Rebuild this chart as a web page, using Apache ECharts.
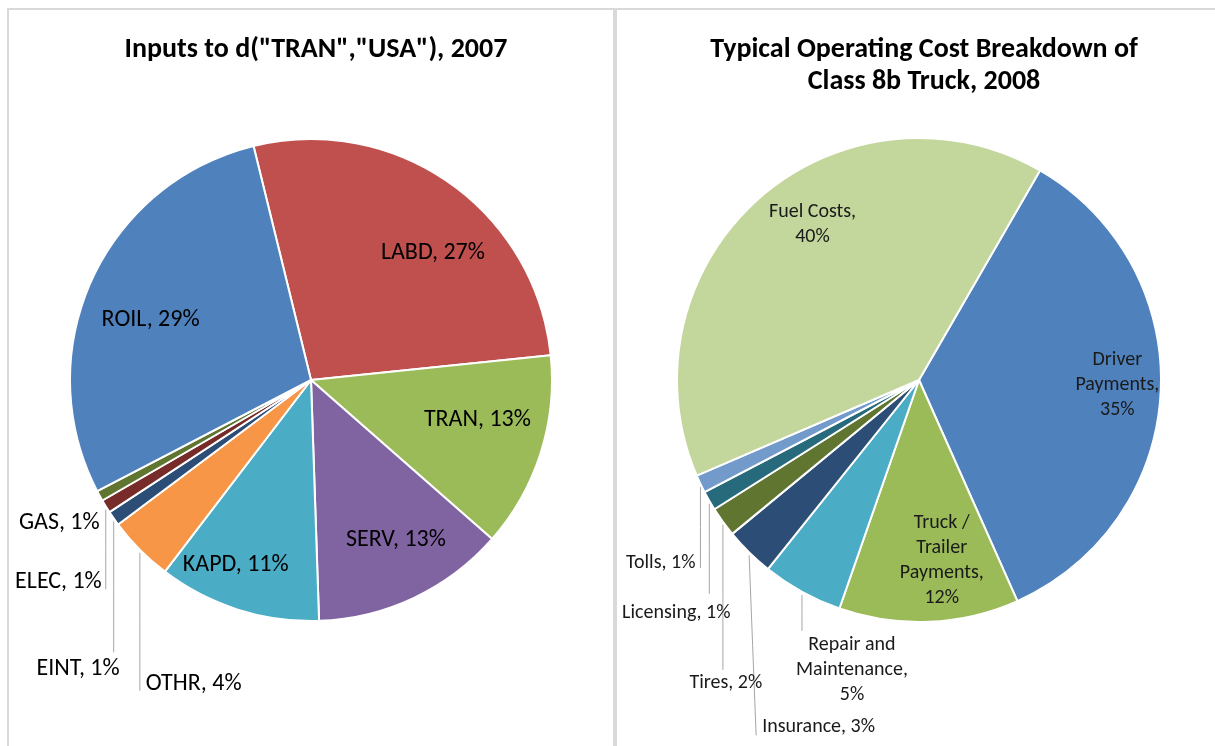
<!DOCTYPE html>
<html>
<head>
<meta charset="UTF-8">
<title>Two pies</title>
<script src="https://cdn.jsdelivr.net/npm/echarts@6/dist/echarts.min.js"></script>
<style>
  html, body { margin: 0; padding: 0; background: #fff; }
  #main { width: 1215px; height: 746px; }
</style>
</head>
<body>
<div id="main"></div>
<script>
// left pie: inputs to d("TRAN","USA"), 2007 (clockwise from LABD)
var leftNames  = ['LABD', 'TRAN', 'SERV', 'KAPD', 'OTHR', 'EINT', 'ELEC', 'GAS', 'ROIL'];
var leftValues = [27.2, 13.1, 13.0, 10.9, 4.4, 1.0, 0.9, 0.7, 28.8];

// right pie: class 8b truck operating cost, 2008 (clockwise from Driver)
var rightNames  = ['Driver\nPayments', 'Truck /\nTrailer\nPayments', 'Repair and\nMaintenance',
                   'Insurance', 'Tires', 'Licensing', 'Tolls', 'Fuel Costs'];
var rightValues = [35.0, 12.0, 5.4, 3.3, 2.0, 1.3, 1.2, 39.8];

var leftColors  = ['#C0504D', '#9BBB59', '#8064A2', '#4BACC6', '#F79646', '#2C4D75', '#772C2A', '#5F7530', '#4F81BD'];
var rightColors = ['#4F81BD', '#9BBB59', '#4BACC6', '#2C4D75', '#5F7530', '#276A7C', '#729ACA', '#C3D69B'];

// label placement, same order as the data
// inside: k = fraction of radius, rot = degrees off the slice middle
// outside: offset from the slice edge point, line drops straight down
var leftPlace = [
  { k: 0.73, rot: 8.7 },
  { k: 0.71, rot: -4.2 },
  { k: 0.75, rot: -2.7 },
  { k: 0.83, rot: 4.4 },
  { dx: 6,  dy: 134, align: 'left',  line: 141 },
  { dx: 6,  dy: 151, align: 'right', line: 134 },
  { dx: -4, dy: 76,  align: 'right', line: 83 },
  { dx: 0,  dy: 27,  align: 'right', line: 0 },
  { k: 0.71, rot: -4 }
];
var rightPlace = [
  { k: 0.82, rot: -1.6, wrap: true },
  { k: 0.75, rot: -4.8, wrap: true },
  { dx: 50,  dy: 78,  align: 'center', line: 39, wrap: true },
  { dx: 13,  dy: 175, align: 'left',   line: 183, ldx: 7 },
  { dx: 3,   dy: 161, align: 'center', line: 148 },
  { dx: -33, dy: 112, align: 'center', line: 93 },
  { dx: -5,  dy: 79,  align: 'right',  line: 84 },
  { k: 0.78, rot: 7.3, wrap: true }
];

var FONT = 'Carlito, Calibri, Lato, sans-serif';

function buildData(names, values, colors, place) {
  return names.map(function (n, i) {
    var p = place[i];
    var outside = p.k == null;
    return {
      name: n,
      value: values[i],
      itemStyle: { color: colors[i] },
      label: { position: outside ? 'outside' : 'inside' },
      labelLine: { show: outside && p.line > 0 }
    };
  });
}

function makeLayout(values, start, cx, cy, r, place) {
  var total = values.reduce(function (a, b) { return a + b; }, 0);
  var mids = [], acc = 0;
  values.forEach(function (v) {
    mids.push(start + (acc + v / 2) / total * 360);
    acc += v;
  });
  return function (params) {
    var i = params.dataIndex;
    var p = place[i];
    if (p.k != null) {
      var a = (mids[i] + p.rot) * Math.PI / 180;
      return {
        x: cx + p.k * r * Math.sin(a),
        y: cy - p.k * r * Math.cos(a),
        align: 'center', verticalAlign: 'middle'
      };
    }
    var b = mids[i] * Math.PI / 180;
    var x0 = cx + r * Math.sin(b), y0 = cy - r * Math.cos(b);
    var ldx = p.ldx || 0;
    var out = {
      x: x0 + p.dx, y: y0 + p.dy,
      align: p.align, verticalAlign: 'middle'
    };
    if (p.line > 0) {
      out.labelLinePoints = [[x0, y0 + 3], [x0 + ldx / 2, y0 + 3 + (p.line - 3) / 2], [x0 + ldx, y0 + p.line]];
    }
    return out;
  };
}

function fmt(place) {
  return function (p) {
    var pl = place[p.dataIndex];
    return p.name + ',' + (pl.wrap ? '\n' : ' ') + Math.round(p.percent) + '%';
  };
}

var leftC = [311, 380], leftR = 241, leftStart = -13.8;
var rightC = [919, 380], rightR = 242, rightStart = 30;

var chart = echarts.init(document.getElementById('main'), null, { renderer: 'canvas' });

var option = {
  animation: false,
  backgroundColor: '#fff',
  title: [
    {
      text: 'Inputs to d("TRAN","USA"), 2007',
      left: 311, top: 29, textAlign: 'center',
      textStyle: { fontFamily: FONT, fontSize: 28, fontWeight: 'bold', color: '#000', lineHeight: 32 }
    },
    {
      text: 'Typical Operating Cost Breakdown of\nClass 8b Truck, 2008',
      left: 919, top: 29, textAlign: 'center',
      textStyle: { fontFamily: FONT, fontSize: 28, fontWeight: 'bold', color: '#000', lineHeight: 32 }
    }
  ],
  graphic: [
    { type: 'line', silent: true, shape: { x1: 7, y1: 9, x2: 1215, y2: 9 }, style: { stroke: '#D9D9D9', lineWidth: 2 } },
    { type: 'line', silent: true, shape: { x1: 8, y1: 9, x2: 8, y2: 746 }, style: { stroke: '#D9D9D9', lineWidth: 2 } },
    { type: 'line', silent: true, shape: { x1: 615, y1: 9, x2: 615, y2: 746 }, style: { stroke: '#D9D9D9', lineWidth: 4 } }
  ],
  series: [
    {
      type: 'pie',
      center: leftC,
      radius: leftR,
      startAngle: 90 - leftStart,
      clockwise: true,
      avoidLabelOverlap: false,
      emphasis: { disabled: true },
      itemStyle: { borderColor: '#fff', borderWidth: 2 },
      label: {
        formatter: fmt(leftPlace),
        fontFamily: FONT, fontSize: 24, color: '#000'
      },
      labelLine: { lineStyle: { color: '#A6A6A6', width: 1 } },
      labelLayout: makeLayout(leftValues, leftStart, leftC[0], leftC[1], leftR, leftPlace),
      data: buildData(leftNames, leftValues, leftColors, leftPlace)
    },
    {
      type: 'pie',
      center: rightC,
      radius: rightR,
      startAngle: 90 - rightStart,
      clockwise: true,
      avoidLabelOverlap: false,
      emphasis: { disabled: true },
      itemStyle: { borderColor: '#fff', borderWidth: 2 },
      label: {
        formatter: fmt(rightPlace),
        fontFamily: FONT, fontSize: 20, lineHeight: 25, color: '#1a1a1a'
      },
      labelLine: { lineStyle: { color: '#A6A6A6', width: 1 } },
      labelLayout: makeLayout(rightValues, rightStart, rightC[0], rightC[1], rightR, rightPlace),
      data: buildData(rightNames, rightValues, rightColors, rightPlace)
    }
  ]
};

chart.setOption(option);
window.onresize = function () { chart.resize(); };
</script>
</body>
</html>
